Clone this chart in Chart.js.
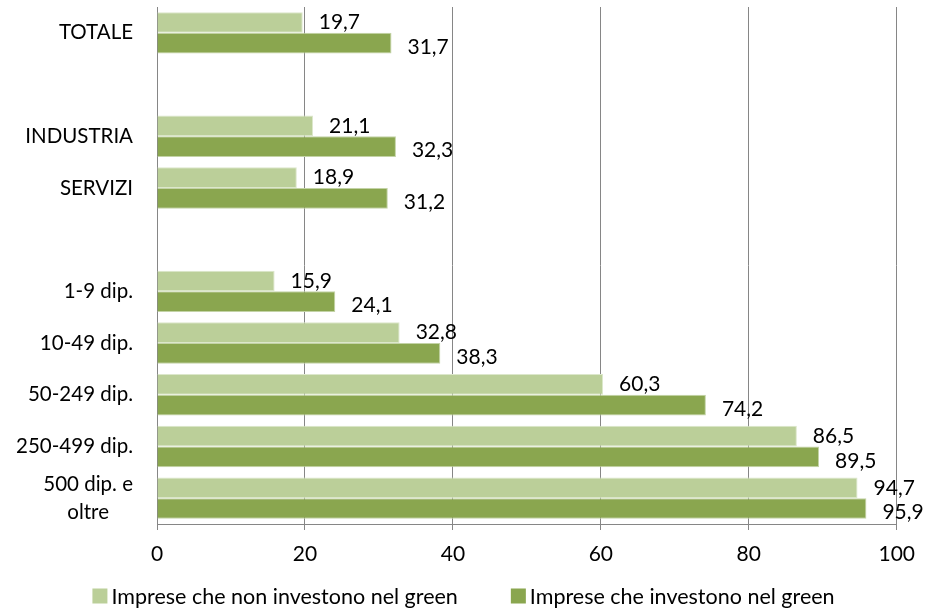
<!DOCTYPE html>
<html><head><meta charset="utf-8">
<script src="https://cdn.jsdelivr.net/npm/chart.js@4/dist/chart.umd.min.js"></script>
<style>html,body{margin:0;padding:0;background:#fff}#wrap{width:927px;height:609px}</style>
</head><body><div id="wrap"><canvas id="c" width="927" height="609"></canvas></div>
<script>
const categories = [["TOTALE"], [""], ["INDUSTRIA"], ["SERVIZI"], [""], ["1-9 dip."], ["10-49 dip."], ["50-249 dip."], ["250-499 dip."], ["500 dip. e", "oltre"]];
const nonInvestono = [19.7, null, 21.1, 18.9, null, 15.9, 32.8, 60.3, 86.5, 94.7];
const investono = [31.7, null, 32.3, 31.2, null, 24.1, 38.3, 74.2, 89.5, 95.9];
const xTicks = [0, 20, 40, 60, 80, 100];
const seriesNames = ["Imprese che non investono nel green", "Imprese che investono nel green"];
const colors = ['#BBCF99', '#8AA64F'];

const FONT = "Lato, 'Open Sans', sans-serif";

const labelPlugin = {
  id: 'vals',
  afterDatasetsDraw(chart) {
    const ctx = chart.ctx;
    ctx.save();
    ctx.font = "21px " + FONT;
    ctx.fillStyle = '#000';
    ctx.textBaseline = 'middle';
    ctx.textAlign = 'left';
    chart.data.datasets.forEach((ds, di) => {
      const meta = chart.getDatasetMeta(di);
      meta.data.forEach((bar, i) => {
        const v = ds.data[i];
        if (v == null) return;
        const txt = v.toFixed(1).replace('.', ',');
        ctx.fillText(txt, bar.x + 16, bar.y + (di === 0 ? 0 : 4));
      });
    });
    ctx.restore();
  }
};

const yLabelPlugin = {
  id: 'ylabels',
  afterDraw(chart) {
    const ctx = chart.ctx;
    const y = chart.scales.y;
    ctx.save();
    ctx.font = "20.5px " + FONT;
    ctx.fillStyle = '#000';
    ctx.textBaseline = 'middle';
    ctx.textAlign = 'center';
    const right = 133, lh = 28;
    categories.forEach((lines, i) => {
      const cy = y.getPixelForTick(i);
      const w = Math.max(...lines.map(l => ctx.measureText(l).width));
      const cx = right - w / 2;
      lines.forEach((l, k) => {
        ctx.fillText(l, cx, cy + (k - (lines.length - 1) / 2) * lh);
      });
    });
    ctx.restore();
  }
};

const legendPlugin = {
  id: 'customLegend',
  afterDraw(chart) {
    const ctx = chart.ctx;
    ctx.save();
    ctx.font = "21.5px " + FONT;
    ctx.textBaseline = 'middle';
    ctx.textAlign = 'left';
    const box = 15, gapBoxText = 4, gapItems = 53, cy = 596;
    const widths = seriesNames.map(n => ctx.measureText(n).width);
    const total = widths.reduce((a, w) => a + box + gapBoxText + w, 0) + gapItems;
    let x = chart.width / 2 - total / 2;
    seriesNames.forEach((n, i) => {
      ctx.fillStyle = colors[i];
      ctx.fillRect(x, cy - box / 2, box, box);
      ctx.fillStyle = '#000';
      ctx.fillText(n, x + box + gapBoxText, cy + 1);
      x += box + gapBoxText + widths[i] + gapItems;
    });
    ctx.restore();
  }
};

new Chart(document.getElementById('c'), {
  type: 'bar',
  data: {
    labels: categories.map(l => l.join(' ')),
    datasets: [
      { label: seriesNames[0], data: nonInvestono, backgroundColor: colors[0], borderColor: '#DCE7CB', borderWidth: 1, categoryPercentage: 0.8, barPercentage: 1.0 },
      { label: seriesNames[1], data: investono, backgroundColor: colors[1], borderColor: '#C3D3A6', borderWidth: 1, categoryPercentage: 0.8, barPercentage: 1.0 }
    ]
  },
  options: {
    indexAxis: 'y',
    responsive: false,
    animation: false,
    layout: { padding: { top: 7, right: 23, left: 0, bottom: 43 } },
    scales: {
      x: {
        min: 0, max: 100,
        afterBuildTicks: s => { s.ticks = xTicks.map(v => ({ value: v })); },
        grid: { color: '#868686', lineWidth: 1, drawTicks: true, tickLength: 6, tickColor: '#868686' },
        border: { color: '#868686', width: 1 },
        ticks: { color: '#000', font: { family: FONT, size: 21 }, padding: 12 },
        afterFit: s => { s.height = 42; }
      },
      y: {
        grid: { display: false },
        border: { color: '#868686', width: 1 },
        ticks: { display: false },
        afterFit: s => { s.width = 157; }
      }
    },
    plugins: {
      legend: { display: false },
      tooltip: { enabled: false }
    }
  },
  plugins: [labelPlugin, yLabelPlugin, legendPlugin]
});
</script></body></html>
